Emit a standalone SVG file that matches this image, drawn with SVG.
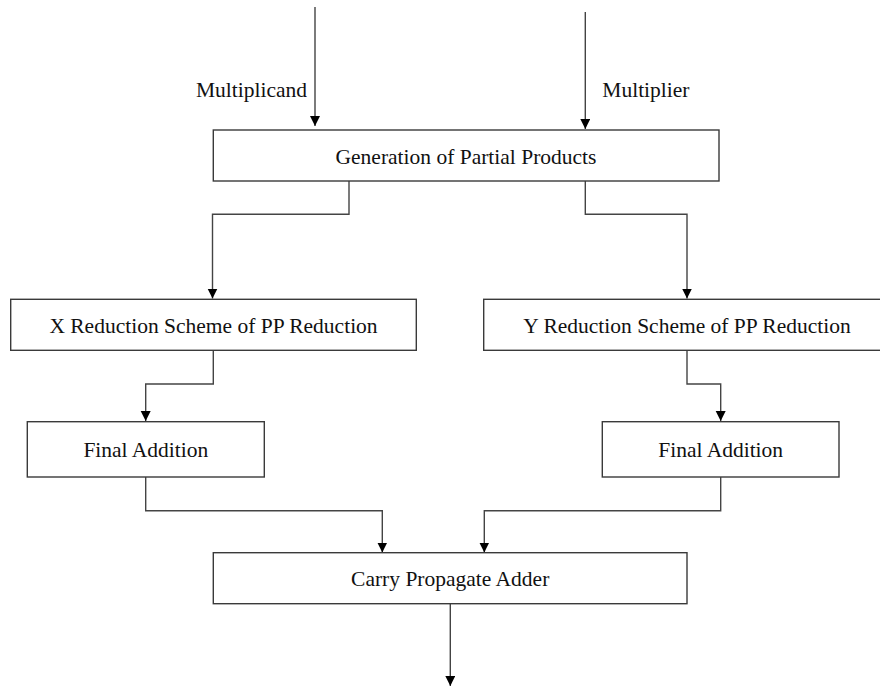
<svg xmlns="http://www.w3.org/2000/svg" width="880" height="687" viewBox="0 0 880 687">
<style>
.box{fill:#fff;stroke:#3a3a3a;stroke-width:1.4}
.lbl{font-family:"Liberation Serif","Times New Roman",serif;font-size:21.5px;fill:#111}
.c{text-anchor:middle}
.con{fill:none;stroke:#444;stroke-width:1.4}
</style>
<defs>
<marker id="ah" markerUnits="userSpaceOnUse" markerWidth="12" markerHeight="11" refX="10" refY="5" orient="auto">
<path d="M0,0 L10,5 L0,10 Z" fill="#000"/>
</marker>
</defs>
<rect width="880" height="687" fill="#fff"/>
<g id="connectors">
<path class="con" d="M315,7 V126" marker-end="url(#ah)"/>
<path class="con" d="M585.3,12 V129" marker-end="url(#ah)"/>
<path class="con" d="M349,181 V214.3 H212.5 V298.5" marker-end="url(#ah)"/>
<path class="con" d="M585.3,181 V214.3 H687 V298.5" marker-end="url(#ah)"/>
<path class="con" d="M213.3,350.3 V384 H145.7 V421" marker-end="url(#ah)"/>
<path class="con" d="M687,350.3 V384 H720.7 V421" marker-end="url(#ah)"/>
<path class="con" d="M145.7,477 V510.7 H382.3 V552.5" marker-end="url(#ah)"/>
<path class="con" d="M720.7,477 V510.7 H484.3 V552.5" marker-end="url(#ah)"/>
<path class="con" d="M450.3,603.7 V686" marker-end="url(#ah)"/>
</g>
<g id="label-multiplicand"><text class="lbl" x="307" y="96.7" text-anchor="end">Multiplicand</text></g>
<g id="label-multiplier"><text class="lbl" x="602.3" y="96.7">Multiplier</text></g>
<g id="node-gen">
<rect class="box" x="213.3" y="130" width="505.7" height="51"/>
<text class="lbl c" x="466" y="164">Generation of Partial Products</text>
</g>
<g id="node-x">
<rect class="box" x="10.7" y="299.3" width="405.6" height="51"/>
<text class="lbl c" x="213.5" y="332.5">X Reduction Scheme of PP Reduction</text>
</g>
<g id="node-y">
<rect class="box" x="483.7" y="299.3" width="405.6" height="51"/>
<text class="lbl c" x="687" y="332.5">Y Reduction Scheme of PP Reduction</text>
</g>
<g id="node-fa-left">
<rect class="box" x="27.3" y="421.7" width="237" height="55.3"/>
<text class="lbl c" x="145.8" y="457">Final Addition</text>
</g>
<g id="node-fa-right">
<rect class="box" x="602.3" y="421.7" width="236.7" height="55.3"/>
<text class="lbl c" x="720.7" y="457">Final Addition</text>
</g>
<g id="node-cpa">
<rect class="box" x="213.3" y="552.7" width="473.7" height="51"/>
<text class="lbl c" x="450.2" y="586">Carry Propagate Adder</text>
</g>
</svg>
